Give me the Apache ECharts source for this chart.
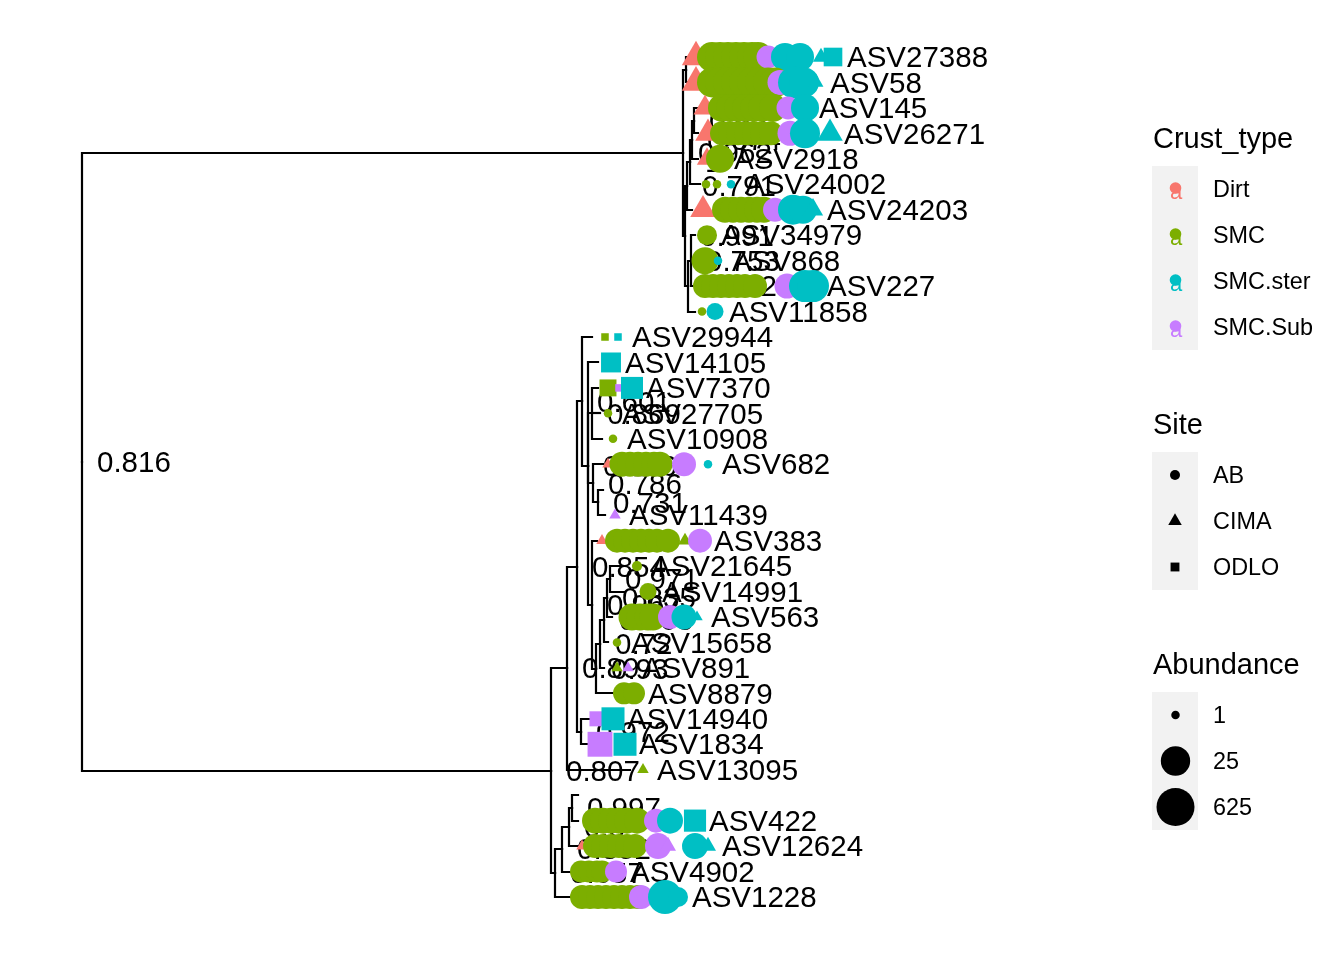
<!DOCTYPE html>
<html><head><meta charset="utf-8">
<script src="https://cdn.jsdelivr.net/npm/echarts@6.0.0/dist/echarts.min.js"></script>
<style>html,body{margin:0;padding:0;background:#fff}#c{width:1344px;height:960px}</style>
</head><body><div id="c"></div>
<script>
// ---------------- DATA ----------------
const crustTypes = ['Dirt', 'SMC', 'SMC.ster', 'SMC.Sub'];
const crustColors = ['#F8766D', '#7CAE00', '#00BFC4', '#C77CFF'];
const sites = ['AB', 'CIMA', 'ODLO'];
const abundanceBreaks = [1, 25, 625];

// internal nodes: [id, parent, depth, support label]
const internalNodes = [
  ['root', null, 0.00, '0.816'],
  ['U', 'root', 6.01, '0.962'],
  ['N12', 'U', 6.04, '1.000'],
  ['V', 'U', 6.03, '0.991'],
  ['C', 'V', 6.05, '0.791'],
  ['Cc', 'C', 6.08, '1.000'],
  ['N345', 'Cc', 6.10, '0.874'],
  ['N34', 'N345', 6.12, '0.950'],
  ['B', 'V', 6.06, '0.922'],
  ['B1', 'B', 6.09, '0.753'],
  ['L', 'root', 4.69, '0.807'],
  ['A', 'L', 4.85, '0.89'],
  ['A1', 'A', 4.95, '0.854'],
  ['A2', 'A1', 5.00, '0.601'],
  ['A4', 'A2', 5.06, '0.936'],
  ['P', 'A4', 5.10, '0.869'],
  ['H1', 'A4', 5.11, '0.786'],
  ['H2', 'H1', 5.16, '0.731'],
  ['LAD', 'A4', 5.10, '0.967'],
  ['Ne', 'LAD', 5.14, '0.93'],
  ['Nd', 'Ne', 5.18, '0.72'],
  ['Nc', 'Nd', 5.22, '0.863'],
  ['Nb', 'Nc', 5.25, '0.835'],
  ['Na', 'Nb', 5.28, '0.971'],
  ['A3', 'A1', 4.99, '0.972'],
  ['Bn', 'L', 4.73, '0.657'],
  ['Cn', 'Bn', 4.80, '0.852'],
  ['Dn', 'Cn', 4.87, '0.8'],
  ['En', 'Dn', 4.90, '0.997']
];

// tips: [label, parent, depth, slot]
const tips = [
  ['ASV27388', 'N12', 6.08, 1],
  ['ASV58', 'N12', 6.08, 2],
  ['ASV145', 'N34', 6.15, 3],
  ['ASV26271', 'N34', 6.16, 4],
  ['ASV2918', 'N345', 6.16, 5],
  ['ASV24002', 'Cc', 6.18, 6],
  ['ASV24203', 'C', 6.10, 7],
  ['ASV34979', 'B1', 6.13, 8],
  ['ASV868', 'B1', 6.10, 9],
  ['ASV227', 'B1', 6.11, 10],
  ['ASV11858', 'B', 6.13, 11],
  ['ASV29944', 'A2', 5.10, 12],
  ['ASV14105', 'A4', 5.16, 13],
  ['ASV7370', 'P', 5.16, 14],
  ['ASV27705', 'P', 5.18, 15],
  ['ASV10908', 'P', 5.20, 16],
  ['ASV682', 'H1', 5.21, 17],
  ['', 'H2', 5.21, 18],
  ['ASV11439', 'H2', 5.23, 19],
  ['ASV383', 'LAD', 5.15, 20],
  ['ASV21645', 'Na', 5.43, 21],
  ['ASV14991', 'Na', 5.43, 22],
  ['ASV563', 'Nb', 5.30, 23],
  ['ASV15658', 'Nc', 5.26, 24],
  ['ASV891', 'Nd', 5.22, 25],
  ['ASV8879', 'Ne', 5.31, 26],
  ['ASV14940', 'A3', 5.08, 27],
  ['ASV1834', 'A3', 5.06, 28],
  ['ASV13095', 'A', 5.48, 29],
  ['', 'En', 4.96, 30],
  ['ASV422', 'En', 4.96, 31],
  ['ASV12624', 'Dn', 4.96, 32],
  ['ASV4902', 'Cn', 4.90, 33],
  ['ASV1228', 'Bn', 4.90, 34]
];

// tip points: [tip, crust type, site, abundance, offset from tip]
const upperPoints = [
  ['ASV27388','Dirt','CIMA',3.2,0.06],
  ['ASV27388','SMC','AB',30.6,0.22],['ASV27388','SMC','AB',30.6,0.30],['ASV27388','SMC','AB',30.6,0.38],
  ['ASV27388','SMC','AB',30.6,0.46],['ASV27388','SMC','AB',30.6,0.54],['ASV27388','SMC','AB',30.6,0.62],
  ['ASV27388','SMC','AB',30.6,0.68],
  ['ASV27388','SMC.Sub','AB',4.7,0.78],
  ['ASV27388','SMC.ster','AB',16.7,0.95],['ASV27388','SMC.ster','AB',16.7,1.10],
  ['ASV27388','SMC.ster','CIMA',1.09,1.31],['ASV27388','SMC.ster','ODLO',3.2,1.43],

  ['ASV58','Dirt','CIMA',3.2,0.06],
  ['ASV58','SMC','AB',30.6,0.22],['ASV58','SMC','AB',30.6,0.30],['ASV58','SMC','AB',30.6,0.38],
  ['ASV58','SMC','AB',30.6,0.46],['ASV58','SMC','AB',30.6,0.54],['ASV58','SMC','AB',30.6,0.62],
  ['ASV58','SMC','AB',30.6,0.70],['ASV58','SMC','AB',30.6,0.78],['ASV58','SMC','AB',30.6,0.85],
  ['ASV58','SMC.Sub','AB',7.5,0.90],
  ['ASV58','SMC.ster','AB',59.4,1.04],['ASV58','SMC.ster','AB',30.6,1.14],
  ['ASV58','SMC.ster','CIMA',1.05,1.26],

  ['ASV145','Dirt','CIMA',1.71,0.08],
  ['ASV145','SMC','AB',16.7,0.25],['ASV145','SMC','AB',16.7,0.33],['ASV145','SMC','AB',16.7,0.41],
  ['ASV145','SMC','AB',16.7,0.49],['ASV145','SMC','AB',16.7,0.57],['ASV145','SMC','AB',16.7,0.65],
  ['ASV145','SMC','AB',16.7,0.76],
  ['ASV145','SMC.Sub','AB',4.7,0.91],
  ['ASV145','SMC.ster','AB',16.7,1.08],

  ['ASV26271','Dirt','CIMA',2.26,0.10],
  ['ASV26271','SMC','AB',5.9,0.24],['ASV26271','SMC','AB',5.9,0.32],['ASV26271','SMC','AB',5.9,0.40],
  ['ASV26271','SMC','AB',5.9,0.48],['ASV26271','SMC','AB',5.9,0.56],['ASV26271','SMC','AB',5.9,0.64],
  ['ASV26271','SMC','AB',5.9,0.73],
  ['ASV26271','SMC.Sub','AB',7.5,0.92],
  ['ASV26271','SMC.ster','AB',30.6,1.07],
  ['ASV26271','SMC.ster','CIMA',2.26,1.32],

  ['ASV2918','Dirt','CIMA',1.37,0.09],
  ['ASV2918','SMC','AB',16.7,0.22],

  ['ASV24002','SMC','AB',1,0.06],['ASV24002','SMC','AB',1,0.17],
  ['ASV24002','SMC.ster','AB',1,0.31],

  ['ASV24203','Dirt','CIMA',2.26,0.11],
  ['ASV24203','SMC','AB',9.6,0.33],['ASV24203','SMC','AB',9.6,0.41],['ASV24203','SMC','AB',9.6,0.49],
  ['ASV24203','SMC','AB',9.6,0.57],['ASV24203','SMC','AB',9.6,0.65],['ASV24203','SMC','AB',9.6,0.72],
  ['ASV24203','SMC.Sub','AB',5.9,0.83],
  ['ASV24203','SMC.ster','AB',30.6,1.01],['ASV24203','SMC.ster','AB',16.7,1.11],
  ['ASV24203','SMC.ster','CIMA',1.37,1.21],

  ['ASV34979','SMC','AB',2.66,0.12],

  ['ASV868','SMC','AB',12.6,0.13],
  ['ASV868','SMC.ster','AB',1,0.26],

  ['ASV227','SMC','AB',5.9,0.12],['ASV227','SMC','AB',5.9,0.20],['ASV227','SMC','AB',5.9,0.28],
  ['ASV227','SMC','AB',5.9,0.36],['ASV227','SMC','AB',5.9,0.44],['ASV227','SMC','AB',5.9,0.52],
  ['ASV227','SMC','AB',5.9,0.62],
  ['ASV227','SMC.Sub','AB',7.5,0.94],
  ['ASV227','SMC.ster','AB',59.4,1.12],['ASV227','SMC.ster','AB',59.4,1.20],

  ['ASV11858','SMC','AB',1,0.07],
  ['ASV11858','SMC.ster','AB',1.71,0.20]
];

const lowerPoints = [
  ['ASV29944','SMC','ODLO',1,0.13],['ASV29944','SMC.ster','ODLO',1,0.26],
  ['ASV14105','SMC.ster','ODLO',4.26,0.13],
  ['ASV7370','SMC','ODLO',2.3,0.10],['ASV7370','SMC.Sub','ODLO',1,0.21],['ASV7370','SMC.ster','ODLO',7.2,0.34],
  ['ASV27705','SMC','AB',1,0.08],
  ['ASV10908','SMC','AB',1,0.11],

  ['ASV682','Dirt','CIMA',1,0.05],
  ['ASV682','SMC','AB',7.5,0.19],['ASV682','SMC','AB',7.5,0.27],['ASV682','SMC','AB',7.5,0.35],
  ['ASV682','SMC','AB',7.5,0.43],['ASV682','SMC','AB',7.5,0.51],['ASV682','SMC','AB',7.5,0.57],
  ['ASV682','SMC.Sub','AB',5.9,0.81],
  ['ASV682','SMC.ster','AB',1,1.05],

  ['ASV11439','SMC.Sub','CIMA',1,0.10],

  ['ASV383','Dirt','CIMA',1,0.05],
  ['ASV383','SMC','AB',5.9,0.20],['ASV383','SMC','AB',5.9,0.28],['ASV383','SMC','AB',5.9,0.36],
  ['ASV383','SMC','AB',5.9,0.44],['ASV383','SMC','AB',5.9,0.52],['ASV383','SMC','AB',5.9,0.60],
  ['ASV383','SMC','AB',5.9,0.71],
  ['ASV383','SMC','CIMA',1.02,0.88],
  ['ASV383','SMC.Sub','AB',5.9,1.03],

  ['ASV21645','SMC','AB',1.02,0.12],
  ['ASV14991','SMC','AB',1.71,0.23],

  ['ASV563','SMC','AB',12.6,0.20],['ASV563','SMC','AB',12.6,0.28],['ASV563','SMC','AB',12.6,0.36],
  ['ASV563','SMC','AB',12.6,0.41],
  ['ASV563','SMC.Sub','AB',5.9,0.58],
  ['ASV563','SMC.ster','AB',7.5,0.72],
  ['ASV563','SMC.ster','CIMA',1,0.85],

  ['ASV15658','SMC','AB',1,0.09],
  ['ASV891','SMC','CIMA',1,0.13],['ASV891','SMC.Sub','CIMA',1,0.24],
  ['ASV8879','SMC','AB',3.85,0.11],['ASV8879','SMC','AB',3.85,0.21],
  ['ASV14940','SMC.Sub','ODLO',1.7,0.07],['ASV14940','SMC.ster','ODLO',9.6,0.23],
  ['ASV1834','SMC.Sub','ODLO',17,0.12],['ASV1834','SMC.ster','ODLO',9.6,0.37],
  ['ASV13095','SMC','CIMA',1,0.13],

  ['ASV422','SMC','AB',9.6,0.17],['ASV422','SMC','AB',9.6,0.25],['ASV422','SMC','AB',9.6,0.33],
  ['ASV422','SMC','AB',9.6,0.41],['ASV422','SMC','AB',9.6,0.49],['ASV422','SMC','AB',9.6,0.59],
  ['ASV422','SMC.Sub','AB',5.9,0.78],
  ['ASV422','SMC.ster','AB',9.6,0.92],
  ['ASV422','SMC.ster','ODLO',7.5,1.17],

  ['ASV12624','Dirt','CIMA',1,0.04],
  ['ASV12624','SMC','AB',5.9,0.17],['ASV12624','SMC','AB',5.9,0.25],['ASV12624','SMC','AB',5.9,0.33],
  ['ASV12624','SMC','AB',5.9,0.41],['ASV12624','SMC','AB',5.9,0.49],['ASV12624','SMC','AB',5.9,0.57],
  ['ASV12624','SMC.Sub','AB',9.6,0.80],
  ['ASV12624','SMC.Sub','CIMA',1.09,0.90],
  ['ASV12624','SMC.ster','AB',9.6,1.17],
  ['ASV12624','SMC.ster','CIMA',1.09,1.30],

  ['ASV4902','SMC','AB',3.85,0.09],['ASV4902','SMC','AB',3.85,0.17],['ASV4902','SMC','AB',3.85,0.25],
  ['ASV4902','SMC','AB',3.85,0.30],
  ['ASV4902','SMC.Sub','AB',3.85,0.44],

  ['ASV1228','SMC','AB',5.9,0.10],['ASV1228','SMC','AB',5.9,0.18],['ASV1228','SMC','AB',5.9,0.26],
  ['ASV1228','SMC','AB',5.9,0.34],['ASV1228','SMC','AB',5.9,0.42],['ASV1228','SMC','AB',5.9,0.50],
  ['ASV1228','SMC','AB',5.9,0.58],['ASV1228','SMC','AB',5.9,0.66],
  ['ASV1228','SMC.Sub','AB',5.9,0.69],
  ['ASV1228','SMC.ster','AB',120,0.93],
  ['ASV1228','SMC.ster','AB',2.66,1.06]
];

// ---------------- BUILD ----------------
const FONT = "'Liberation Sans', Arial, Helvetica, sans-serif";
const TREE_FONT = '29.5px ' + FONT;
const TEXT_DY = 2;
const D_MIN = 8.5, D_MAX = 38;
const sizeOf = ab => D_MIN + (D_MAX - D_MIN) * Math.sqrt(Math.log(ab) / Math.log(625));

const nodeMap = {};
internalNodes.forEach(([id, parent, depth, support]) => {
  nodeMap[id] = { id, parent, depth, support, children: [], tip: false };
});
tips.forEach(([label, parent, depth, slot]) => {
  const id = label || ('_' + slot);
  nodeMap[id] = { id, label, parent, depth, y: slot, children: [], tip: true };
});
Object.values(nodeMap).forEach(n => { if (n.parent) nodeMap[n.parent].children.push(n); });
function yOf(n) {
  if (n.y !== undefined) return n.y;
  n.y = n.children.reduce((s, c) => s + yOf(c), 0) / n.children.length;
  return n.y;
}
yOf(nodeMap.root);

const edgeData = [];
Object.values(nodeMap).forEach(n => {
  if (!n.parent) return;
  const p = nodeMap[n.parent];
  edgeData.push([p.depth, p.y, n.depth, n.y]);
});

const allPoints = upperPoints.concat(lowerPoints);
const maxOffset = {};
allPoints.forEach(([tip, , , , off]) => { maxOffset[tip] = Math.max(maxOffset[tip] || 0, off); });

const pointData = allPoints.map(([tip, crust, site, ab, off]) => {
  const t = nodeMap[tip];
  const d = sizeOf(ab);
  const color = crustColors[crustTypes.indexOf(crust)];
  let symbol = 'circle', size = [d, d], offset = [0, 0];
  if (site === 'CIMA') { symbol = 'triangle'; size = [1.347 * d, 1.166 * d]; offset = [0, -1.166 * d / 6]; }
  else if (site === 'ODLO') { symbol = 'rect'; size = [0.886 * d, 0.886 * d]; }
  return { value: [t.depth + off, t.y], symbol, symbolSize: size, symbolOffset: offset,
    itemStyle: { color, opacity: 1 } };
});

const tipLabelData = tips.filter(t => t[0]).map(([label]) => {
  const t = nodeMap[label];
  return [t.depth + (maxOffset[label] || 0) + 0.14, t.y, label];
});
const nodeLabelData = internalNodes.map(([id]) => {
  const n = nodeMap[id];
  return [n.depth + 0.15, n.y, n.support];
});

const textRender = (params, api) => {
  const p = api.coord([api.value(0), api.value(1)]);
  return { type: 'text', x: p[0], y: p[1] + TEXT_DY,
    style: { text: String(api.value(2)), font: TREE_FONT, fill: '#000', align: 'left', verticalAlign: 'middle' } };
};
const snap = p => [Math.round(p[0]), Math.round(p[1])];

// ---------------- LEGEND (graphic) ----------------
const LX = 1152, KW = 46, TX = 1213;
const legendFontTitle = '29px ' + FONT, legendFontText = '23.4px ' + FONT;
const graphic = [];
function title(text, y) {
  graphic.push({ type: 'text', x: 1153, y: y + TEXT_DY, style: { text, font: legendFontTitle, fill: '#000', verticalAlign: 'middle' } });
}
function item(text, y) {
  graphic.push({ type: 'text', x: TX, y: y + TEXT_DY, style: { text, font: legendFontText, fill: '#000', verticalAlign: 'middle' } });
}
// Crust_type
title('Crust_type', 138);
graphic.push({ type: 'rect', shape: { x: LX, y: 166, width: KW, height: 46 * crustTypes.length }, style: { fill: '#F2F2F2' } });
crustTypes.forEach((c, i) => {
  const cy = 189 + 46 * i;
  graphic.push({ type: 'text', x: 1176, y: cy + 4, style: { text: 'a', font: '22px ' + FONT, fill: crustColors[i], align: 'center', verticalAlign: 'middle' } });
  graphic.push({ type: 'circle', shape: { cx: 1175.5, cy: cy - 1, r: 5.8 }, style: { fill: crustColors[i] } });
  item(c, cy);
});
// Site
title('Site', 424);
graphic.push({ type: 'rect', shape: { x: LX, y: 452, width: KW, height: 46 * sites.length }, style: { fill: '#F2F2F2' } });
sites.forEach((s, i) => {
  const cy = 475 + 46 * i, d = 10;
  if (s === 'AB') graphic.push({ type: 'circle', shape: { cx: 1175, cy, r: d / 2 }, style: { fill: '#000' } });
  else if (s === 'CIMA') {
    const r = d / 2;
    graphic.push({ type: 'polygon', shape: { points: [[1175, cy - 1.555 * r], [1175 + 1.347 * r, cy + 0.778 * r], [1175 - 1.347 * r, cy + 0.778 * r]] }, style: { fill: '#000' } });
  } else {
    const a = 0.886 * d;
    graphic.push({ type: 'rect', shape: { x: 1175 - a / 2, y: cy - a / 2, width: a, height: a }, style: { fill: '#000' } });
  }
  item(s, cy);
});
// Abundance
title('Abundance', 664);
graphic.push({ type: 'rect', shape: { x: LX, y: 692, width: KW, height: 46 * abundanceBreaks.length }, style: { fill: '#F2F2F2' } });
abundanceBreaks.forEach((b, i) => {
  const cy = 715 + 46 * i;
  graphic.push({ type: 'circle', shape: { cx: 1175.5, cy, r: sizeOf(b) / 2 }, style: { fill: '#000' } });
  item(String(b), cy);
});

// ---------------- CHART ----------------
const chart = echarts.init(document.getElementById('c'), null, { renderer: 'canvas' });
chart.setOption({
  animation: false,
  backgroundColor: '#fff',
  grid: { left: 82, top: 57, width: 1000, height: 840 },
  xAxis: { type: 'value', min: 0, max: 10, show: false },
  yAxis: { type: 'value', min: 1, max: 34, inverse: true, show: false },
  graphic,
  series: [
    {
      type: 'custom', name: 'edges', z: 1, clip: false, silent: true,
      data: edgeData,
      renderItem: (params, api) => {
        const p0 = snap(api.coord([api.value(0), api.value(1)]));
        const p1 = snap(api.coord([api.value(0), api.value(3)]));
        const p2 = snap(api.coord([api.value(2), api.value(3)]));
        return { type: 'polyline', shape: { points: [p0, p1, p2] },
          style: { stroke: '#000', lineWidth: 2.2, fill: null, lineJoin: 'miter', lineCap: 'square' } };
      }
    },
    { type: 'custom', name: 'nodelab', z: 2, clip: false, silent: true, data: nodeLabelData, renderItem: textRender },
    { type: 'custom', name: 'tiplab', z: 3, clip: false, silent: true, data: tipLabelData, renderItem: textRender },
    { type: 'scatter', name: 'points', z: 4, clip: false, silent: true, data: pointData }
  ]
});
</script>
</body></html>
